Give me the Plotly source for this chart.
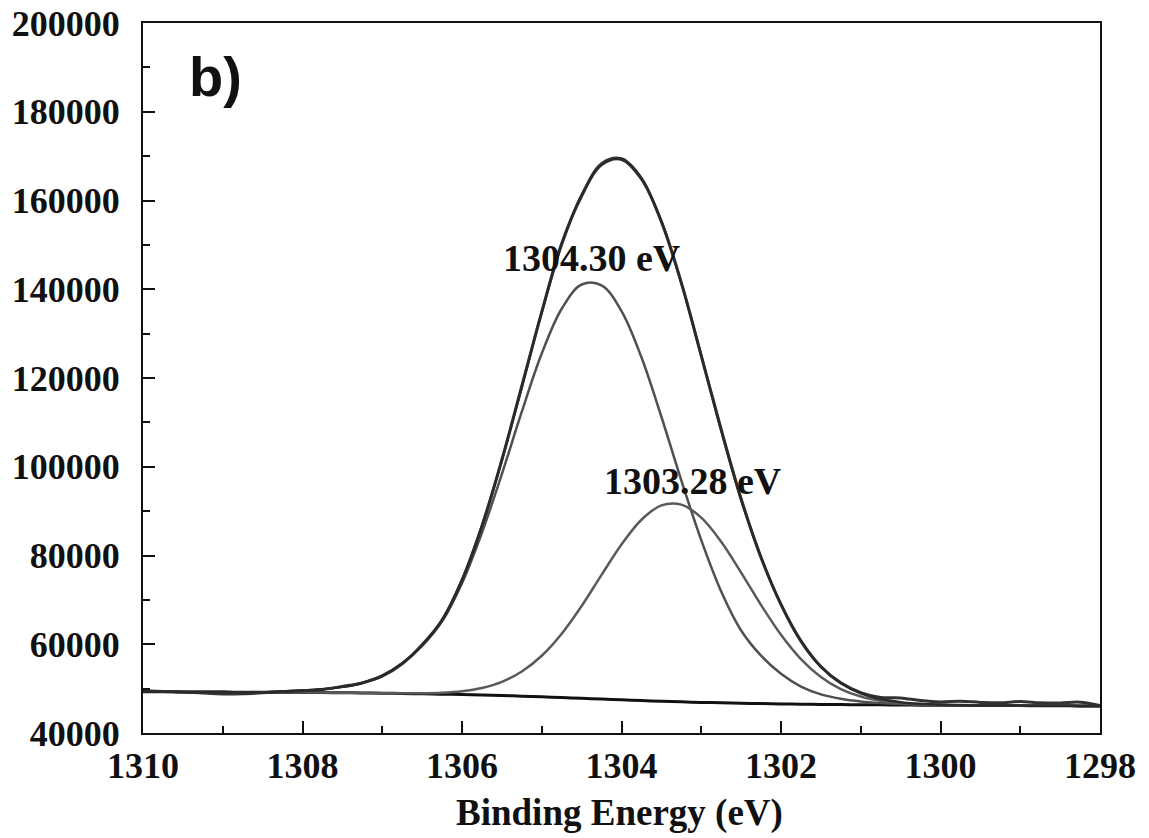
import plotly.graph_objects as go

# Binding energy grid (eV)
energy = [1310.0, 1309.75, 1309.5, 1309.25, 1309.0, 1308.75, 1308.5, 1308.25, 1308.0,
          1307.75, 1307.5, 1307.25, 1307.0, 1306.75, 1306.5, 1306.25, 1306.0,
          1305.75, 1305.5, 1305.25, 1305.0, 1304.75, 1304.5, 1304.25, 1304.0,
          1303.75, 1303.5, 1303.25, 1303.0, 1302.75, 1302.5, 1302.25, 1302.0,
          1301.75, 1301.5, 1301.25, 1301.0, 1300.75, 1300.5, 1300.25, 1300.0,
          1299.75, 1299.5, 1299.25, 1299.0, 1298.75, 1298.5, 1298.25, 1298.0]

raw_counts = [49500, 49350, 49250, 49000, 48800, 48850, 49050, 49300, 49500,
              49800, 50500, 51300, 52800, 55600, 59900, 65400, 74400,
              86600, 101600, 118200, 134900, 150300, 161000, 168300, 169400,
              165000, 155200, 141500, 125000, 108400, 92800, 79500, 69000,
              60800, 55000, 51300, 49100, 48000, 47900, 47300, 47000,
              47150, 46900, 46800, 47100, 46800, 46750, 46950, 46200]

fit_envelope = [49300, 49280, 49260, 49240, 49220, 49200, 49180, 49395, 49560,
                49860, 50390, 51280, 52910, 55725, 59775, 65495, 74530,
                86730, 101440, 117960, 134770, 149990, 161300, 168000, 169200,
                164800, 155390, 141370, 125110, 108200, 92550, 79640, 68920,
                60620, 54890, 51220, 48960, 47660, 46955, 46570, 46375,
                46230, 46210, 46190, 46170, 46150, 46130, 46110, 46100]

peak_1304_30 = [49300, 49280, 49260, 49240, 49220, 49200, 49180, 49395, 49560,
                49860, 50390, 51280, 52910, 55670, 59630, 65150, 73760,
                85130, 98350, 112410, 125510, 135600, 141070, 140890, 135080,
                124670, 111270, 96930, 83470, 71900, 63110, 57430, 53330,
                50450, 48710, 47730, 47120, 46760, 46545, 46400, 46310,
                46230, 46210, 46190, 46170, 46150, 46130, 46110, 46100]

peak_1303_28 = [49300, 49280, 49260, 49240, 49220, 49200, 49180, 49160, 49140,
                49110, 49070, 49020, 48960, 48955, 48975, 49095, 49430,
                50160, 51530, 53850, 57410, 62380, 68630, 75630, 82480,
                88060, 91280, 91460, 88540, 83100, 76150, 68840, 62150,
                56670, 52630, 49900, 48210, 47240, 46720, 46450, 46315,
                46230, 46210, 46190, 46170, 46150, 46130, 46110, 46100]

background = [49300, 49280, 49260, 49240, 49220, 49200, 49180, 49160, 49140,
              49110, 49070, 49020, 48960, 48900, 48830, 48750, 48660,
              48560, 48440, 48300, 48150, 47990, 47820, 47640, 47470,
              47310, 47160, 47020, 46900, 46800, 46710, 46630, 46560,
              46500, 46450, 46410, 46370, 46340, 46310, 46280, 46250,
              46230, 46210, 46190, 46170, 46150, 46130, 46110, 46100]

peak_labels = ["1304.30 eV", "1303.28 eV"]
label_x = [1304.37, 1303.10]
label_y = [147000, 96800]

serif = "Liberation Serif, Times New Roman, serif"

fig = go.Figure()
fig.add_trace(go.Scatter(x=energy, y=background, mode="lines",
                         line=dict(color="#111111", width=3, shape="spline"),
                         showlegend=False))
fig.add_trace(go.Scatter(x=energy, y=peak_1304_30, mode="lines",
                         line=dict(color="#505050", width=2.5, shape="spline"),
                         showlegend=False))
fig.add_trace(go.Scatter(x=energy, y=peak_1303_28, mode="lines",
                         line=dict(color="#5a5a5a", width=2.5, shape="spline"),
                         showlegend=False))
fig.add_trace(go.Scatter(x=energy, y=raw_counts, mode="lines",
                         line=dict(color="#333333", width=3, shape="spline"),
                         showlegend=False))
fig.add_trace(go.Scatter(x=energy, y=fit_envelope, mode="lines",
                         line=dict(color="#2a2a2a", width=2.5, shape="spline"),
                         showlegend=False))

for t, xx, yy in zip(peak_labels, label_x, label_y):
    fig.add_annotation(x=xx, y=yy, xref="x", yref="y", text=t, showarrow=False,
                       font=dict(family=serif, size=38, color="#111111", weight="bold"))

fig.add_annotation(x=0.046, y=0.925, xref="paper", yref="paper", text="b)",
                   showarrow=False, xanchor="left", yanchor="middle",
                   font=dict(family="Liberation Sans, Arial, sans-serif", size=56,
                             color="#111111", weight="bold"))

fig.add_annotation(x=0.498, y=-0.113, xref="paper", yref="paper",
                   text="Binding Energy (eV)", showarrow=False,
                   xanchor="center", yanchor="middle",
                   font=dict(family=serif, size=37, color="#111111", weight="bold"))

axis_common = dict(showgrid=False, zeroline=False, showline=True, linecolor="#111111",
                   linewidth=2, mirror=True, ticks="inside", ticklen=12, tickwidth=2,
                   tickcolor="#111111", tickformat="d",
                   tickfont=dict(family=serif, size=36, color="#111111", weight="bold"))

fig.update_xaxes(range=[1310, 1298], tick0=1298, dtick=2, ticklabelstandoff=0,
                 minor=dict(ticks="inside", ticklen=7, tickwidth=2, dtick=1,
                            tickcolor="#111111"),
                 **axis_common)
fig.update_yaxes(range=[40000, 200000], tick0=40000, dtick=20000, ticklabelstandoff=14,
                 minor=dict(ticks="inside", ticklen=7, tickwidth=2, dtick=10000,
                            tickcolor="#111111"),
                 **axis_common)

fig.update_layout(width=1149, height=838,
                  margin=dict(l=143, r=49, t=23, b=105, autoexpand=False),
                  plot_bgcolor="white", paper_bgcolor="white")

fig.write_html("out.html")
